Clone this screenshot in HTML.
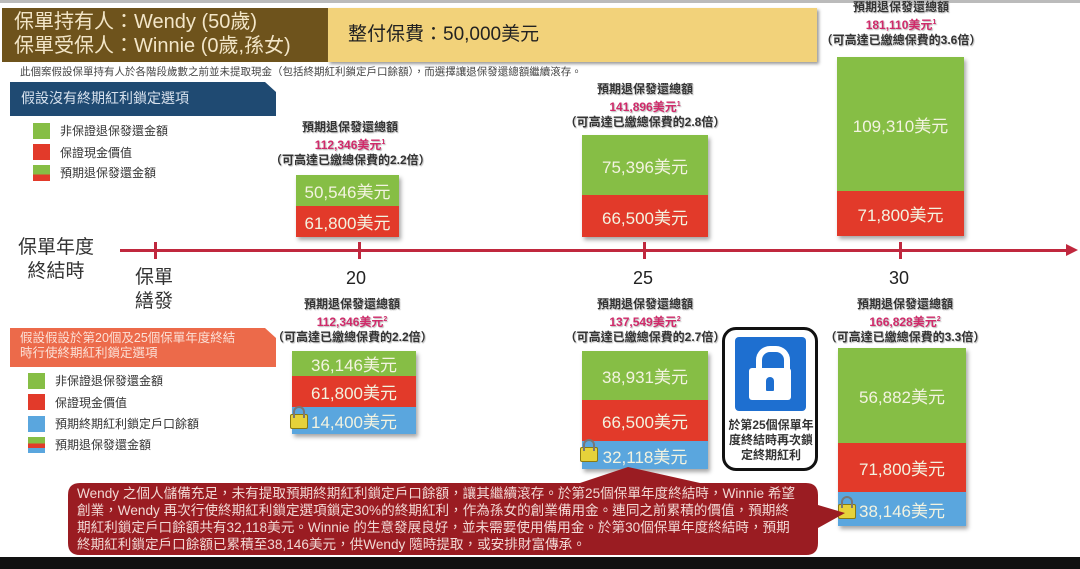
<!DOCTYPE html>
<html><head><meta charset="utf-8"><style>
body{margin:0;width:1080px;height:569px;background:#fff;position:relative;overflow:hidden;font-family:"Liberation Sans","Noto Sans CJK TC",sans-serif}
.a{position:absolute}
.bar{position:absolute;color:#f3f3e0;font-size:17px;text-align:center;box-shadow:2px 3px 4px rgba(0,0,0,.35)}
.bar div{display:flex;align-items:center;justify-content:center}
.g{background:#86be45}.r{background:#e23a2a}.b{background:#5aa6de}
.lab{position:absolute;text-align:center;font-size:12px;font-weight:bold;color:#333;line-height:15px;text-shadow:1px 1px 1px #bbb;white-space:nowrap}
.lab .p{color:#d02a6a}
.leg{position:absolute;font-size:12px;color:#333;line-height:14px}
.sq{position:absolute;width:17px;height:16px}
.lock{position:absolute;width:16px;height:13px;background:#e6d23a;border:1px solid #8a7a10;border-radius:2px}
.lock:before{content:"";position:absolute;left:2px;top:-9px;width:8px;height:10px;border:2px solid #777;border-bottom:none;border-radius:6px 6px 0 0}
</style></head><body>
<div class="a" style="left:0;top:0;width:1080px;height:3px;background:#bbb"></div>
<div class="a" style="left:2px;top:8px;width:326px;height:54px;background:#6e531c;color:#f3e6c8;font-size:20px;line-height:24px;padding:2px 0 0 12px;box-sizing:border-box">保單持有人：Wendy (50歲)<br>保單受保人：Winnie (0歲,孫女)</div>
<div class="a" style="left:328px;top:8px;width:489px;height:54px;background:#f2d27a;box-shadow:2px 2px 3px #999;font-size:19px;line-height:54px;padding-left:20px;box-sizing:border-box;color:#222">整付保費：50,000美元</div>
<div class="a" style="left:20px;top:64px;font-size:10.5px;color:#444">此個案假設保單持有人於各階段歲數之前並未提取現金（包括終期紅利鎖定戶口餘額），而選擇讓退保發還總額繼續滾存。</div>
<div class="a" style="left:10px;top:82px;width:266px;height:34px;background:#1f4a72;clip-path:polygon(0 0,255px 0,266px 10px,266px 100%,0 100%);color:#d8e2ee;font-size:14px;line-height:32px;padding-left:11px;box-sizing:border-box">假設沒有終期紅利鎖定選項</div>
<div class="sq g" style="left:33px;top:123px"></div><div class="leg" style="left:60px;top:124px">非保證退保發還金額</div>
<div class="sq r" style="left:33px;top:144px"></div><div class="leg" style="left:60px;top:146px">保證現金價值</div>
<div class="sq" style="left:33px;top:165px;background:linear-gradient(#86be45 60%,#e23a2a 60%)"></div><div class="leg" style="left:60px;top:166px">預期退保發還金額</div>

<div class="lab" style="left:270px;top:120px;width:160px">預期退保發還總額<br><span class="p">112,346美元<sup style="font-size:7px">1</sup></span><br>（可高達已繳總保費的2.2倍）</div>
<div class="bar" style="left:296px;top:175px;width:103px"><div class="g" style="height:31px">50,546美元</div><div class="r" style="height:31px">61,800美元</div></div>
<div class="lab" style="left:560px;top:82px;width:170px">預期退保發還總額<br><span class="p">141,896美元<sup style="font-size:7px">1</sup></span><br>（可高達已繳總保費的2.8倍）</div>
<div class="bar" style="left:582px;top:135px;width:126px"><div class="g" style="height:60px">75,396美元</div><div class="r" style="height:42px">66,500美元</div></div>
<div class="lab" style="left:816px;top:0px;width:170px">預期退保發還總額<br><span class="p">181,110美元<sup style="font-size:7px">1</sup></span><br>（可高達已繳總保費的3.6倍）</div>
<div class="bar" style="left:837px;top:57px;width:127px"><div class="g" style="height:134px">109,310美元</div><div class="r" style="height:45px">71,800美元</div></div>

<div class="a" style="left:120px;top:249px;width:950px;height:3px;background:#c0283e"></div>
<div class="a" style="left:1066px;top:244px;border-left:12px solid #c0283e;border-top:6px solid transparent;border-bottom:6px solid transparent"></div>
<div class="a" style="left:154px;top:242px;width:3px;height:17px;background:#c0283e"></div>
<div class="a" style="left:358px;top:242px;width:3px;height:17px;background:#c0283e"></div>
<div class="a" style="left:643px;top:242px;width:3px;height:17px;background:#c0283e"></div>
<div class="a" style="left:899px;top:242px;width:3px;height:17px;background:#c0283e"></div>
<div class="a" style="left:18px;top:236px;font-size:19px;line-height:24px;color:#333;text-align:center">保單年度<br>終結時</div>
<div class="a" style="left:135px;top:266px;font-size:19px;line-height:24px;color:#333">保單<br>繕發</div>
<div class="a" style="left:346px;top:268px;font-size:18px;color:#222">20</div>
<div class="a" style="left:633px;top:268px;font-size:18px;color:#222">25</div>
<div class="a" style="left:889px;top:268px;font-size:18px;color:#222">30</div>

<div class="a" style="left:10px;top:328px;width:266px;height:39px;background:#ec6a4a;clip-path:polygon(0 0,255px 0,266px 10px,266px 100%,0 100%);color:#fbe0d6;font-size:12.5px;line-height:15px;padding:3px 0 0 10px;box-sizing:border-box">假設假設於第20個及25個保單年度終結<br>時行使終期紅利鎖定選項</div>
<div class="sq g" style="left:28px;top:373px"></div><div class="leg" style="left:55px;top:374px">非保證退保發還金額</div>
<div class="sq r" style="left:28px;top:394px"></div><div class="leg" style="left:55px;top:396px">保證現金價值</div>
<div class="sq b" style="left:28px;top:416px"></div><div class="leg" style="left:55px;top:417px">預期終期紅利鎖定戶口餘額</div>
<div class="sq" style="left:28px;top:437px;background:linear-gradient(#86be45 40%,#e23a2a 40%,#e23a2a 70%,#5aa6de 70%)"></div><div class="leg" style="left:55px;top:438px">預期退保發還金額</div>

<div class="lab" style="left:272px;top:297px;width:160px">預期退保發還總額<br><span class="p">112,346美元<sup style="font-size:7px">2</sup></span><br>（可高達已繳總保費的2.2倍）</div>
<div class="bar" style="left:292px;top:351px;width:124px"><div class="g" style="height:25px">36,146美元</div><div class="r" style="height:31px">61,800美元</div><div class="b" style="height:27px">14,400美元</div></div>
<div class="lock" style="left:290px;top:414px"></div>
<div class="lab" style="left:560px;top:297px;width:170px">預期退保發還總額<br><span class="p">137,549美元<sup style="font-size:7px">2</sup></span><br>（可高達已繳總保費的2.7倍）</div>
<div class="bar" style="left:582px;top:351px;width:126px"><div class="g" style="height:49px">38,931美元</div><div class="r" style="height:41px">66,500美元</div><div class="b" style="height:28px">32,118美元</div></div>
<div class="lock" style="left:580px;top:447px"></div>
<div class="lab" style="left:820px;top:297px;width:170px">預期退保發還總額<br><span class="p">166,828美元<sup style="font-size:7px">2</sup></span><br>（可高達已繳總保費的3.3倍）</div>
<div class="bar" style="left:838px;top:348px;width:128px"><div class="g" style="height:95px">56,882美元</div><div class="r" style="height:49px">71,800美元</div><div class="b" style="height:34px">38,146美元</div></div>
<div class="lock" style="left:838px;top:504px"></div>

<div class="a" style="left:722px;top:327px;width:96px;height:144px;border:3px solid #111;border-radius:14px;box-sizing:border-box"></div>
<div class="a" style="left:735px;top:337px;width:71px;height:74px;background:#1e6fd0;border-radius:4px"></div>
<div class="a" style="left:756px;top:346px;width:22px;height:24px;border:6px solid #fff;border-bottom:none;border-radius:14px 14px 0 0"></div>
<div class="a" style="left:749px;top:368px;width:42px;height:32px;background:#fff;border-radius:3px"></div>
<div class="a" style="left:766px;top:377px;width:8px;height:14px;background:#1e6fd0;border-radius:4px 4px 1px 1px"></div>
<div class="a" style="left:726px;top:418px;width:90px;text-align:center;font-size:12px;font-weight:bold;line-height:15px;color:#333">於第25個保單年度終結時再次鎖定終期紅利</div>

<svg class="a" style="left:0;top:0" width="1080" height="569">
<path d="M80 483 H580 L628 467 L700 483 H806 Q818 483 818 495 V505 L845 513 L818 528 V543 Q818 555 806 555 H80 Q68 555 68 543 V495 Q68 483 80 483Z" fill="#9a1c22"/>
<rect x="0" y="557" width="1080" height="12" fill="#111"/>
</svg>
<div class="a" style="left:77px;top:485px;font-size:13.6px;line-height:17px;color:#f1d8d4;white-space:nowrap">Wendy 之個人儲備充足，未有提取預期終期紅利鎖定戶口餘額，讓其繼續滾存。於第25個保單年度終結時，Winnie 希望<br>創業，Wendy 再次行使終期紅利鎖定選項鎖定30%的終期紅利，作為孫女的創業備用金。連同之前累積的價值，預期終<br>期紅利鎖定戶口餘額共有32,118美元。Winnie 的生意發展良好，並未需要使用備用金。於第30個保單年度終結時，預期<br>終期紅利鎖定戶口餘額已累積至38,146美元，供Wendy 隨時提取，或安排財富傳承。</div>
</body></html>
